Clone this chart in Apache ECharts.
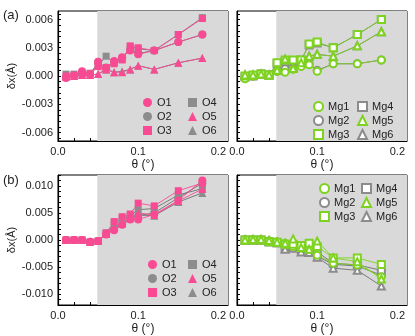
<!DOCTYPE html>
<html>
<head>
<meta charset="utf-8">
<script src="https://cdn.jsdelivr.net/npm/echarts@6/dist/echarts.min.js"></script>
<style>
  html, body {margin: 0; padding: 0; background: #fff;}
  #chart {width: 415px; height: 336px;}
</style>
</head>
<body>
<div id="chart"></div>
<script>
// theta (deg) sampled for every series
const theta = [0.01, 0.02, 0.03, 0.04, 0.05, 0.06, 0.07, 0.08, 0.09, 0.10, 0.12, 0.15, 0.18];

const oNames = ['O1', 'O2', 'O3', 'O4', 'O5', 'O6'];
const mgNames = ['Mg1', 'Mg2', 'Mg3', 'Mg4', 'Mg5', 'Mg6'];

// (a) oxygen
const aO1 = [-0.0002, 0.0000, 0.0005, 0.0002, 0.0015, 0.0008, 0.0016, 0.0020, 0.0027, 0.0023, 0.0027, 0.0036, 0.0044];
const aO2 = [-0.0001, 0.0001, 0.0004, 0.0002, 0.0014, 0.0009, 0.0015, 0.0019, 0.0028, 0.0024, 0.0027, 0.0036, 0.0044];
const aO3 = [0.0000, 0.0001, 0.0002, 0.0002, 0.0010, 0.0009, 0.0013, 0.0017, 0.0032, 0.0030, 0.0027, 0.0044, 0.0061];
const aO4 = [0.0002, 0.0002, 0.0002, 0.0003, 0.0011, 0.0021, 0.0014, 0.0018, 0.0031, 0.0029, 0.0027, 0.0044, 0.0062];
const aO5 = [-0.0001, 0.0000, 0.0001, 0.0001, 0.0002, 0.0007, 0.0004, 0.0004, 0.0007, 0.0011, 0.0007, 0.0014, 0.0019];
const aO6 = [0.0000, 0.0000, 0.0001, 0.0001, 0.0002, 0.0007, 0.0004, 0.0005, 0.0007, 0.0011, 0.0007, 0.0014, 0.0019];

// (a) magnesium
const aMg1 = [-0.0003, 0.0000, 0.0002, 0.0001, 0.0005, 0.0004, 0.0007, 0.0010, 0.0012, 0.0005, 0.0013, 0.0013, 0.0017];
const aMg2 = [-0.0002, 0.0000, 0.0002, 0.0001, 0.0005, 0.0008, 0.0008, 0.0011, 0.0013, 0.0006, 0.0013, 0.0013, 0.0017];
const aMg3 = [0.0000, 0.0001, 0.0002, 0.0001, 0.0014, 0.0017, 0.0017, 0.0017, 0.0034, 0.0036, 0.0030, 0.0044, 0.0060];
const aMg4 = [-0.0001, 0.0000, 0.0002, 0.0001, 0.0013, 0.0015, 0.0016, 0.0017, 0.0033, 0.0035, 0.0030, 0.0044, 0.0060];
const aMg5 = [0.0001, 0.0001, 0.0002, 0.0001, 0.0006, 0.0018, 0.0008, 0.0014, 0.0021, 0.0023, 0.0021, 0.0032, 0.0047];
const aMg6 = [0.0001, 0.0001, 0.0002, 0.0001, 0.0006, 0.0017, 0.0009, 0.0014, 0.0021, 0.0023, 0.0021, 0.0032, 0.0047];

// (b) oxygen
const bO1 = [0.0000, 0.0000, 0.0000, -0.0003, -0.0002, 0.0010, 0.0018, 0.0028, 0.0038, 0.0038, 0.0047, 0.0073, 0.0110];
const bO2 = [0.0000, 0.0000, 0.0000, -0.0003, -0.0002, 0.0012, 0.0020, 0.0030, 0.0040, 0.0045, 0.0050, 0.0078, 0.0105];
const bO3 = [0.0000, 0.0000, 0.0000, -0.0004, -0.0002, 0.0013, 0.0034, 0.0043, 0.0048, 0.0068, 0.0063, 0.0091, 0.0105];
const bO4 = [0.0000, 0.0000, 0.0000, -0.0004, -0.0002, 0.0013, 0.0030, 0.0040, 0.0045, 0.0056, 0.0058, 0.0083, 0.0095];
const bO5 = [0.0000, 0.0000, 0.0000, -0.0003, -0.0002, 0.0011, 0.0022, 0.0030, 0.0042, 0.0050, 0.0046, 0.0072, 0.0094];
const bO6 = [0.0000, 0.0000, 0.0000, -0.0003, -0.0002, 0.0011, 0.0024, 0.0032, 0.0040, 0.0046, 0.0045, 0.0070, 0.0087];

// (b) magnesium
const bMg1 = [0.0000, 0.0000, 0.0000, -0.0002, -0.0003, -0.0006, -0.0012, -0.0015, -0.0017, -0.0028, -0.0043, -0.0046, -0.0068];
const bMg2 = [0.0000, 0.0000, 0.0000, -0.0002, -0.0004, -0.0008, -0.0012, -0.0016, -0.0018, -0.0030, -0.0045, -0.0048, -0.0065];
const bMg3 = [0.0000, 0.0000, 0.0000, -0.0003, -0.0004, -0.0008, -0.0008, -0.0010, -0.0006, -0.0012, -0.0033, -0.0033, -0.0045];
const bMg4 = [0.0000, 0.0000, 0.0000, -0.0003, -0.0005, -0.0015, -0.0012, -0.0018, -0.0014, -0.0022, -0.0043, -0.0046, -0.0056];
const bMg5 = [0.0000, 0.0001, 0.0001, -0.0001, -0.0004, -0.0006, 0.0002, -0.0014, -0.0017, -0.0002, -0.0033, -0.0040, -0.0072];
const bMg6 = [0.0000, 0.0000, 0.0000, -0.0003, -0.0005, -0.0017, -0.0015, -0.0022, -0.0023, -0.0032, -0.0052, -0.0056, -0.0085];

const aTicks = [-0.006, -0.003, 0, 0.003, 0.006];
const bTicks = [-0.010, -0.005, 0, 0.005, 0.010];
const xLabels = [0, 0.1, 0.2];
const shadeFrom = 0.049;

const PINK = '#fa4a93';
const GREY = '#8c8c8c';
const GREEN = '#7ed321';
const FONT = 'Liberation Sans, Arial, sans-serif';

const shapes = ['circle', 'circle', 'rect', 'rect', 'triangle', 'triangle'];
const emptyShapes = ['emptyCircle', 'emptyCircle', 'emptyRect', 'emptyRect', 'emptyTriangle', 'emptyTriangle'];

const XMAX = 0.212;

function minorTicks(lim, step) {
    let out = [];
    for (let i = -Math.floor(lim / step); i <= Math.floor(lim / step); i++) out.push(+(i * step).toFixed(6));
    return out;
}

let grids = [], xAxes = [], yAxes = [], series = [], legends = [];

function panel(gi, left, top, lim, labels, step, showY, oxy, values, legendPos) {
    grids.push({left: left, top: top, width: 170, height: 130, show: true,
        borderColor: '#000', borderWidth: 1, backgroundColor: '#fff'});
    xAxes.push({
        type: 'value', gridIndex: gi, min: 0, max: XMAX,
        name: 'θ (°)', nameLocation: 'middle', nameGap: 18,
        nameTextStyle: {fontFamily: FONT, fontSize: 12, color: '#222'},
        axisLine: {show: true, onZero: false, lineStyle: {color: '#000', width: 1.2}},
        axisTick: {show: true, inside: true, length: 3, customValues: [0.02, 0.04, 0.06, 0.08, 0.1, 0.12, 0.14, 0.16, 0.18, 0.2],
            lineStyle: {color: '#000'}},
        axisLabel: {customValues: xLabels, formatter: v => v.toFixed(1), fontFamily: FONT, fontSize: 11, color: '#222', margin: 5},
        splitLine: {show: false}
    });
    yAxes.push({
        type: 'value', gridIndex: gi, min: -lim, max: lim,
        name: showY ? 'δx(Å)' : '', nameLocation: 'middle', nameGap: 38,
        nameTextStyle: {fontFamily: FONT, fontSize: 11, color: '#222'},
        axisLine: {show: true, onZero: false, lineStyle: {color: '#000', width: 1.2}},
        axisTick: {show: true, inside: true, length: 3, customValues: minorTicks(lim, step), lineStyle: {color: '#000'}},
        axisLabel: {show: showY, customValues: labels, formatter: v => v.toFixed(3), fontFamily: FONT, fontSize: 11, color: '#222', margin: 5},
        splitLine: {show: false}
    });
    // shaded region
    series.push({
        type: 'line', xAxisIndex: gi, yAxisIndex: gi, data: [[shadeFrom, 0]], showSymbol: false,
        lineStyle: {opacity: 0}, silent: true, z: 1,
        markArea: {silent: true, itemStyle: {color: '#d9d9d9'}, data: [[{xAxis: shadeFrom}, {xAxis: XMAX}]]}
    });
    const names = oxy ? oNames : mgNames;
    // grey series first so the coloured ones sit on top
    const order = [1, 3, 5, 0, 2, 4];
    order.forEach((i) => {
        const nm = names[i];
        const grey = i % 2 === 1;
        const col = grey ? GREY : (oxy ? PINK : GREEN);
        series.push({
            name: nm, type: 'line', xAxisIndex: gi, yAxisIndex: gi, z: 3,
            data: theta.map((t, k) => [t, values[i][k]]),
            symbol: oxy ? shapes[i] : emptyShapes[i],
            symbolSize: oxy ? (i === 2 || i === 3 ? 7 : 8) : 7,
            lineStyle: {color: grey ? '#6e6e6e' : col, width: 0.9},
            itemStyle: {color: col, borderWidth: oxy ? 0 : 1.5},
            emphasis: {disabled: true}
        });
    });
    [names.slice(0, 3), names.slice(3)].forEach((col, c) => {
        legends.push({
            orient: 'vertical', left: legendPos[c][0], top: legendPos[c][1],
            data: col.map((n) => ({name: n, icon: oxy ? shapes[names.indexOf(n)] : emptyShapes[names.indexOf(n)]})),
            itemWidth: 9, itemHeight: 9, itemGap: 3, selectedMode: false,
            textStyle: {fontFamily: FONT, fontSize: 11, color: '#222', lineHeight: 10},
            padding: 0
        });
    });
}

panel(0, 58, 11, 0.0069, aTicks, 0.0006, true, true, [aO1, aO2, aO3, aO4, aO5, aO6], [[143, 97], [188, 97]]);
panel(1, 237, 11, 0.0069, aTicks, 0.0006, false, false, [aMg1, aMg2, aMg3, aMg4, aMg5, aMg6], [[313, 101], [357, 101]]);
panel(2, 58, 175, 0.012, bTicks, 0.001, true, true, [bO1, bO2, bO3, bO4, bO5, bO6], [[148, 259], [188, 259]]);
panel(3, 237, 175, 0.012, bTicks, 0.001, false, false, [bMg1, bMg2, bMg3, bMg4, bMg5, bMg6], [[319, 183], [361, 183]]);

const chart = echarts.init(document.getElementById('chart'), null, {renderer: 'canvas'});
chart.setOption({
    animation: false,
    backgroundColor: '#fff',
    grid: grids,
    xAxis: xAxes,
    yAxis: yAxes,
    legend: legends,
    series: series,
    graphic: [
        {type: 'text', left: 3, top: 9, style: {text: '(a)', fontFamily: FONT, fontSize: 13, fill: '#222'}},
        {type: 'text', left: 3, top: 174, style: {text: '(b)', fontFamily: FONT, fontSize: 13, fill: '#222'}}
    ]
});
</script>
</body>
</html>
